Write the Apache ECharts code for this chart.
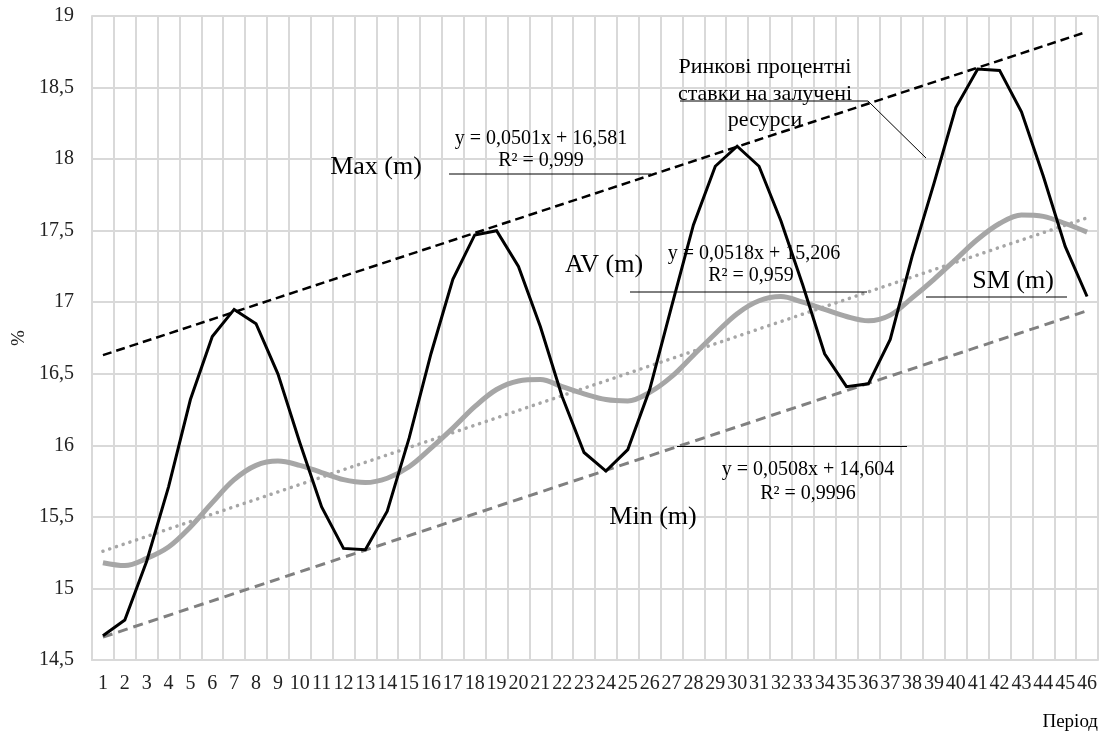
<!DOCTYPE html>
<html>
<head>
<meta charset="utf-8">
<script src="https://cdn.jsdelivr.net/npm/echarts@6/dist/echarts.min.js"></script>
<style>
html,body{margin:0;padding:0;background:#fff;}
#c{width:1112px;height:737px;}
</style>
</head>
<body>
<div id="c"></div>
<script>
// ---- data ----
var periods = ["1","2","3","4","5","6","7","8","9","10","11","12","13","14","15","16","17","18","19","20","21","22","23","24","25","26","27","28","29","30","31","32","33","34","35","36","37","38","39","40","41","42","43","44","45","46"];
var marketRates = [14.67,14.78,15.19,15.71,16.32,16.76,16.95,16.85,16.50,16.02,15.57,15.28,15.27,15.54,16.05,16.64,17.16,17.47,17.50,17.25,16.83,16.34,15.95,15.82,15.97,16.39,16.97,17.54,17.95,18.09,17.95,17.57,17.12,16.64,16.41,16.43,16.74,17.32,17.83,18.36,18.63,18.62,18.33,17.88,17.39,17.04];
var smRates = [15.18,15.16,15.21,15.29,15.43,15.60,15.76,15.86,15.89,15.86,15.81,15.76,15.74,15.77,15.85,15.98,16.12,16.27,16.39,16.45,16.46,16.41,16.36,16.32,16.31,16.37,16.48,16.63,16.78,16.92,17.01,17.04,17.00,16.95,16.90,16.87,16.91,17.03,17.16,17.30,17.44,17.55,17.61,17.60,17.55,17.49];
// trend line end values (at period 1 and period 46)
var maxTrendEnds = [16.63, 18.89];
var avTrendEnds = [15.26, 17.59];
var minTrendEnds = [14.66, 16.94];
var yTicks = {min: 14.5, max: 19, step: 0.5};
var labels = {
  maxName: "Max (m)", avName: "AV (m)", smName: "SM (m)", minName: "Min (m)",
  maxEq: ["y = 0,0501x + 16,581", "R² = 0,999"],
  avEq: ["y = 0,0518x + 15,206", "R² = 0,959"],
  minEq: ["y = 0,0508x + 14,604", "R² = 0,9996"],
  market: ["Ринкові процентні", "ставки на залучені", "ресурси"],
  xName: "Період", yName: "%"
};

var FF = '"Liberation Serif","Times New Roman",serif';
function trend(ends){ return [[periods[0], ends[0]], [periods[periods.length-1], ends[1]]]; }
function txt(x, y, s, size, align){
  return {type:'text', x:x, y:y, z:100, style:{text:s, fontSize:size, fontFamily:FF, fill:'#000', align:align||'center', verticalAlign:'middle'}};
}
function ln(x1,y1,x2,y2){
  return {type:'line', z:100, shape:{x1:x1,y1:y1,x2:x2,y2:y2}, style:{stroke:'#000', lineWidth:1}};
}

var chart = echarts.init(document.getElementById('c'), null, {renderer:'canvas'});
chart.setOption({
  animation:false,
  backgroundColor:'#fff',
  grid:{left:92, right:14, top:16, bottom:77, containLabel:false},
  xAxis:{
    type:'category', data:periods, boundaryGap:true,
    axisLine:{show:true, lineStyle:{color:'#D9D9D9', width:2}},
    axisTick:{show:false},
    axisLabel:{interval:0, margin:14, fontSize:20, fontFamily:FF, color:'#222'},
    splitLine:{show:true, interval:0, lineStyle:{color:'#D9D9D9', width:2}}
  },
  yAxis:{
    type:'value', min:yTicks.min, max:yTicks.max, interval:yTicks.step,
    axisLine:{show:true, lineStyle:{color:'#D9D9D9', width:2}},
    axisTick:{show:false},
    axisLabel:{margin:18, fontSize:20, fontFamily:FF, color:'#222',
      formatter:function(v){ return String(v).replace('.', ','); }},
    splitLine:{show:true, lineStyle:{color:'#D9D9D9', width:2}},
    name:labels.yName, nameLocation:'middle', nameGap:62, nameRotate:90,
    nameTextStyle:{fontSize:19, fontFamily:FF, color:'#222'}
  },
  series:[
    {type:'line', name:'AV trend', data:trend(avTrendEnds), symbol:'none', z:2,
      lineStyle:{color:'#A6A6A6', width:3.5, type:[0.1,7], cap:'round'}},
    {type:'line', name:'Min trend', data:trend(minTrendEnds), symbol:'none', z:3,
      lineStyle:{color:'#808080', width:3, type:[10,6]}},
    {type:'line', name:'SM', data:smRates, symbol:'none', smooth:0.35, z:4,
      lineStyle:{color:'#A6A6A6', width:5}},
    {type:'line', name:'Max trend', data:trend(maxTrendEnds), symbol:'none', z:5,
      lineStyle:{color:'#000', width:2.5, type:[9,5]}},
    {type:'line', name:'Market', data:marketRates, symbol:'none', z:6,
      lineStyle:{color:'#000', width:3, join:'miter'}}
  ],
  graphic:[
    txt(376, 167, labels.maxName, 26),
    ln(449,174,651,174),
    txt(541, 139, labels.maxEq[0], 20),
    txt(541, 161, labels.maxEq[1], 20),
    txt(604, 265, labels.avName, 26),
    txt(754, 254, labels.avEq[0], 20),
    txt(751, 276, labels.avEq[1], 20),
    ln(630,292,867,292),
    txt(1013, 281, labels.smName, 26),
    ln(926,297,1067,297),
    txt(653, 517, labels.minName, 26),
    txt(808, 470, labels.minEq[0], 20),
    txt(808, 494, labels.minEq[1], 20),
    ln(677,446.5,907,446.5),
    txt(765, 67, labels.market[0], 22),
    txt(765, 94, labels.market[1], 22),
    txt(765, 120, labels.market[2], 22),
    {type:'polyline', z:100, shape:{points:[[680,101],[868,101],[926,158]]}, style:{stroke:'#000', lineWidth:1, fill:null}},
    txt(1098, 722, labels.xName, 19, 'right')
  ]
});
</script>
</body>
</html>
